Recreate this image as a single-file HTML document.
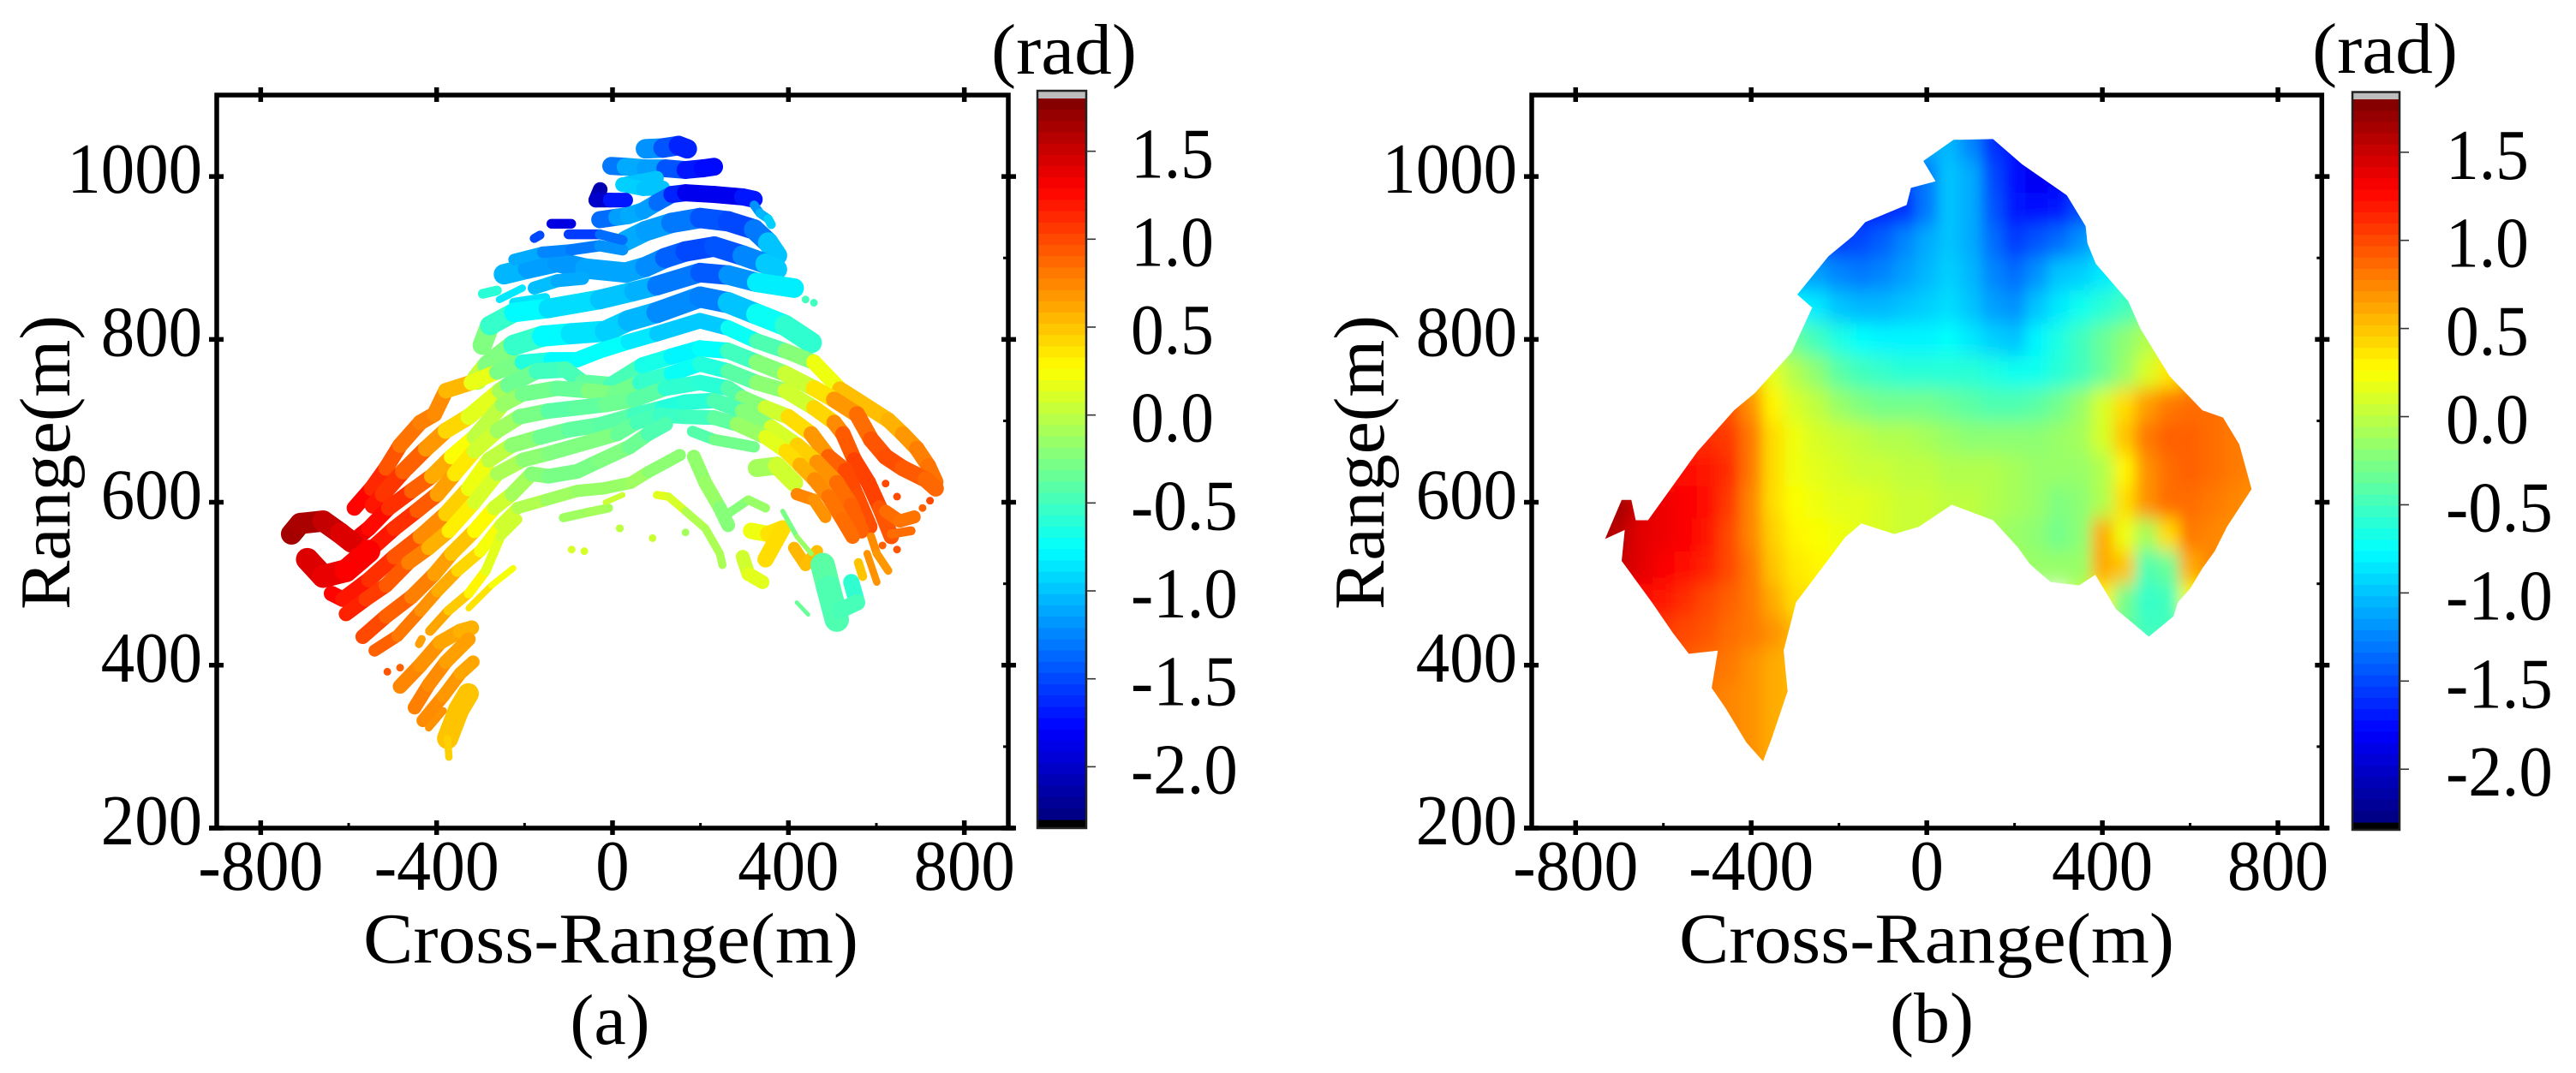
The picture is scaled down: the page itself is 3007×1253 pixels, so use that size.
<!DOCTYPE html>
<html lang="en">
<head>
<meta charset="utf-8">
<title>Phase maps (a) and (b)</title>
<style>
html,body{margin:0;padding:0;background:#fff;}
svg{display:block;}
text{font-family:"Liberation Serif",serif;fill:#000;}
</style>
</head>
<body>
<svg id="figure" width="3007" height="1253" viewBox="0 0 3007 1253">
  <rect x="0" y="0" width="3007" height="1253" fill="#fff"/>
  <defs>
    <filter id="heat-blur" filterUnits="userSpaceOnUse" x="1788" y="111" width="923" height="856">
      <feGaussianBlur stdDeviation="8 11"/>
    </filter>
    <clipPath id="outline-clip"><path id="outline-path"/></clipPath>
  </defs>
  <g id="panel-a">
    <g id="fringes-a"></g>
    <g id="axes-a"></g>
    <g id="colorbar-a"></g>
    <text x="713" y="1124" font-size="84" text-anchor="middle" textLength="578" lengthAdjust="spacingAndGlyphs">Cross-Range(m)</text>
    <text transform="translate(81,540) rotate(-90)" font-size="84" text-anchor="middle" textLength="344" lengthAdjust="spacingAndGlyphs">Range(m)</text>
    <text x="1242" y="86" font-size="84" text-anchor="middle" textLength="170" lengthAdjust="spacingAndGlyphs">(rad)</text>
    <text x="712" y="1219" font-size="84" text-anchor="middle">(a)</text>
  </g>
  <g id="panel-b">
    <g clip-path="url(#outline-clip)">
      <g id="heat-b" filter="url(#heat-blur)"></g>
    </g>
    <g id="axes-b"></g>
    <g id="colorbar-b"></g>
    <text x="2249" y="1124" font-size="84" text-anchor="middle" textLength="578" lengthAdjust="spacingAndGlyphs">Cross-Range(m)</text>
    <text transform="translate(1615,540) rotate(-90)" font-size="84" text-anchor="middle" textLength="344" lengthAdjust="spacingAndGlyphs">Range(m)</text>
    <text x="2784" y="85" font-size="84" text-anchor="middle" textLength="170" lengthAdjust="spacingAndGlyphs">(rad)</text>
    <text x="2255" y="1217" font-size="84" text-anchor="middle">(b)</text>
  </g>
</svg>
<script>
// ---------- axis labels and ticks ----------
const crossTicks = [-800, -400, 0, 400, 800];
const crossMinorTicks = [-600, -200, 200, 600];
const rangeTicks = [200, 400, 600, 800, 1000];
const rangeMinorTicks = [300, 500, 700, 900];
const phaseTicks = [1.5, 1.0, 0.5, 0.0, -0.5, -1.0, -1.5, -2.0];
const phaseTickLabels = ['1.5', '1.0', '0.5', '0.0', '-0.5', '-1.0', '-1.5', '-2.0'];

// ---------- panel (a): wrapped-phase fringes, [cross-range m, range m, phase rad] ----------
const fringe01 = [[75,1034,-1.1],[115,1035,-1.3],[150,1038,-1.6],[170,1034,-1.7]];
const fringe02 = [[-3,1013,-1.4],[30,1012,-1.2],[75,1010,-1.0],[120,1010,-1.3],[166,1008,-1.6],[205,1010,-1.8],[231,1012,-1.7]];
const fringe03 = [[100,998,-1.0],[23,990,-1.0],[70,985,-0.9],[114,986,-1.1]];
const fringe04 = [[-28,984,-2.1],[-38,971,-2.1],[-5,971,-1.9],[30,971,-1.5]];
const fringe05 = [[-29,947,-1.5],[10,950,-1.2],[36,952,-1.1],[70,958,-1.1],[101,968,-1.2],[135,978,-1.5],[166,980,-1.8],[231,978,-1.9],[296,975,-1.8],[322,972,-1.6]];
const fringe06 = [[322,965,-1.3],[335,955,-1.1],[354,948,-1.0],[361,941,-0.9]];
const fringe07 = [[30,921,-1.1],[75,933,-1.1],[134,943,-1.2],[199,949,-1.4],[263,945,-1.5],[322,935,-1.5],[354,919,-1.1],[374,903,-0.9]];
const fringe08 = [[-247,880,-1.0],[-192,887,-1.1],[-126,895,-1.2],[-62,887,-1.15],[30,882,-1.1],[75,889,-1.15],[120,900,-1.3],[166,908,-1.5],[231,914,-1.5],[296,903,-1.4],[348,893,-1.1],[374,886,-0.85]];
const fringe09 = [[-224,898,-1.0],[-159,907,-1.2],[-94,910,-1.3],[-29,915,-1.3],[23,910,-1.1]];
const fringe10 = [[-178,863,-0.95],[-126,872,-1.1],[-68,875,-1.1]];
const fringe11 = [[-139,942,-1.9],[-94,942,-1.9]];
const fringe12 = [[-178,924,-1.5],[-165,928,-1.5]];
const fringe13 = [[-100,929,-1.6],[-29,929,-1.5],[23,922,-1.2]];
const fringe14 = [[-295,856,-0.5],[-263,860,-0.7]];
const fringe15 = [[-257,849,-0.8],[-205,863,-0.9]];
const fringe16 = [[-224,845,-0.8],[-153,851,-0.95]];
const fringe17 = [[-296,793,-0.1],[-279,817,-0.4],[-224,833,-0.7],[-146,838,-0.85],[-29,849,-0.95],[49,859,-1.05],[101,866,-1.1],[199,882,-1.5],[263,879,-1.35],[328,870,-1.05],[413,863,-0.6]];
const fringe18 = [[-308,751,0.15],[-283,768,-0.1],[-224,793,-0.4],[-159,804,-0.7],[-94,807,-0.85],[-16,810,-0.9],[36,823,-1.0],[101,833,-1.1],[199,852,-1.35],[263,845,-1.2],[328,831,-0.8],[393,817,-0.65],[452,796,-0.5]];
const fringe19 = [[-587,593,1.35],[-548,617,1.2],[-515,642,1.05],[-483,670,0.85],[-437,698,0.8],[-405,708,0.75],[-379,737,0.7],[-321,747,0.4],[-263,760,-0.05],[-205,772,-0.5],[-139,775,-0.75],[-81,775,-0.8],[-29,786,-0.7],[36,797,-0.8],[101,807,-0.9],[199,823,-1.05],[263,814,-0.9],[328,798,-0.55],[393,786,-0.35],[458,772,-0.1],[517,739,0.5],[627,701,0.55],[660,684,0.6],[692,666,0.75],[718,645,0.8],[735,625,0.85]];
const fringe20 = [[-545,596,1.25],[-522,610,1.15],[-476,638,1.0],[-424,666,0.8],[-379,688,0.55],[-327,705,0.3],[-256,737,0.0],[-237,744,-0.2],[-172,761,-0.45],[-107,763,-0.55],[-68,747,-0.4],[-3,744,-0.35],[68,768,-0.6],[134,779,-0.75],[199,789,-0.85],[263,786,-0.65],[328,772,-0.35],[393,758,-0.1],[458,740,0.2],[504,726,0.55],[556,708,0.8],[588,677,0.9],[621,656,1.0],[660,642,0.95],[712,628,0.9],[735,617,0.85]];
const fringe21 = [[-730,561,1.65],[-710,574,1.65],[-658,577,1.6],[-619,562,1.45],[-593,551,1.4],[-554,568,1.3],[-509,593,1.2],[-457,614,1.0],[-411,632,0.8],[-366,656,0.4],[-314,680,0.1],[-250,720,-0.1],[-205,733,-0.2],[-126,740,-0.4],[-55,737,-0.3],[3,733,-0.2],[62,747,-0.4],[134,758,-0.7],[199,770,-0.75],[263,761,-0.5],[328,747,-0.3],[393,737,-0.1],[458,716,0.25],[504,698,0.6],[524,684,0.85],[550,652,1.0],[582,624,1.05],[608,593,1.0],[634,558,0.9]];
const fringe22 = [[-730,561,1.65],[-710,574,1.65],[-658,577,1.6],[-619,562,1.45],[-593,551,1.4]];
const fringe23 = [[-694,530,1.45],[-658,509,1.4],[-606,516,1.35],[-554,540,1.25],[-496,568,1.15],[-444,590,1.05],[-398,610,0.8],[-359,635,0.5],[-314,663,0.2],[-262,688,-0.05],[-211,705,-0.2],[-146,712,-0.35],[-81,716,-0.45],[-16,720,-0.3],[49,726,-0.35],[120,740,-0.45],[199,747,-0.7],[263,740,-0.5],[296,728,-0.35],[348,716,-0.1],[400,705,0.25],[452,684,0.55],[491,656,0.8],[530,639,1.0],[556,607,1.0],[585,570,0.95]];
const fringe24 = [[-694,530,1.45],[-658,509,1.4],[-606,516,1.35],[-554,540,1.25]];
const fringe25 = [[-639,488,1.3],[-613,481,1.25],[-554,505,1.15],[-496,533,1.05],[-437,558,0.85],[-379,586,0.6],[-327,617,0.3],[-281,652,0.1],[-229,670,-0.1],[-165,680,-0.3],[-99,689,-0.35],[-29,695,-0.4],[49,707,-0.4],[114,716,-0.6],[166,723,-0.65],[231,725,-0.55],[296,712,-0.35],[361,692,-0.1],[420,670,0.3],[465,649,0.6],[510,624,0.8],[543,596,0.9],[566,565,0.9]];
const fringe26 = [[-606,463,1.2],[-561,481,1.1],[-515,498,1.0],[-464,526,0.85],[-418,544,0.7],[-372,565,0.45],[-314,600,0.2],[-262,635,0.0],[-203,652,-0.15],[-145,660,-0.25],[-80,670,-0.25],[11,684,-0.25],[55,698,-0.45],[107,707,-0.5],[166,705,-0.55],[231,704,-0.45],[283,696,-0.3],[348,680,0.0],[394,663,0.3],[426,646,0.5],[459,628,0.65],[491,607,0.8],[523,579,0.85],[546,558,0.85]];
const fringe27 = [[-568,435,1.05],[-515,460,0.95],[-457,484,0.85],[-405,512,0.7],[-366,537,0.6],[-314,565,0.4],[-269,593,0.15],[-229,610,0.0],[-184,635,-0.2],[-145,632,-0.25],[-80,638,-0.3],[-29,651,-0.25],[39,668,-0.25],[81,684,-0.4],[121,696,-0.5]];
const fringe28 = [[-541,418,0.95],[-489,436,0.85],[-437,467,0.75],[-398,491,0.65],[-353,516,0.55],[-301,540,0.3],[-255,572,0.15],[-216,593,0.0],[-151,603,-0.1],[-80,614,-0.15],[-21,617,-0.15],[42,624,-0.15],[81,637,-0.1],[153,658,-0.3]];
const fringe29 = [[-415,442,0.7],[-373,467,0.55],[-327,488,0.4],[-288,516,0.2],[-255,558,0.1],[-216,579,0.05]];
const fringe30 = [[-327,470,0.45],[-275,498,0.3],[-226,519,0.15]];
const fringe31 = [[-112,581,-0.1],[-54,588,-0.15],[-9,593,-0.05]];
const fringe32 = [[-16,600,0.05],[23,609,0.05]];
const fringe33 = [[-483,374,0.75],[-437,400,0.75],[-392,428,0.65],[-346,442,0.6],[-320,446,0.55]];
const fringe34 = [[-450,348,0.8],[-418,376,0.75],[-379,404,0.7],[-327,432,0.6]];
const fringe35 = [[-431,332,0.75],[-385,362,0.7],[-346,390,0.65],[-317,404,0.6]];
const fringe36 = [[-418,323,0.7],[-385,344,0.7]];
const fringe37 = [[-375,310,0.5],[-350,345,0.5],[-328,365,0.5]];
const fringe38 = [[-372,287,0.45],[-375,310,0.45]];
const fringe39 = [[-434,432,0.65],[-440,426,0.65]];
const fringe40 = [[182,687,-0.45],[231,677,-0.4],[322,668,-0.2]];
const fringe41 = [[185,656,-0.25],[211,624,-0.1],[244,593,-0.2],[263,572,-0.25]];
const fringe42 = [[263,586,-0.25],[309,603,-0.2],[348,593,-0.1]];
const fringe43 = [[101,609,0.1],[127,607,0.2],[166,589,0.0],[211,568,-0.1],[244,537,-0.05],[250,523,-0.1]];
const fringe44 = [[328,642,-0.15],[374,645,-0.05],[413,624,0.2]];
const fringe45 = [[315,565,0.15],[354,561,0.25],[387,568,0.5],[348,530,0.3]];
const fringe46 = [[296,533,0.05],[309,512,0.1],[341,502,0.2]];
const fringe47 = [[419,610,0.75],[458,603,0.75],[484,582,0.65]];
const fringe48 = [[413,544,0.55],[439,523,0.55],[465,540,0.5]];
const fringe49 = [[588,558,0.7],[601,537,0.75],[627,516,0.6]];
const fringe50 = [[579,537,0.7],[601,502,0.7]];
const fringe51 = [[559,526,0.5],[569,509,0.5]];
const fringe52 = [[621,589,0.85],[653,577,0.85],[686,582,0.8]];
const fringe53 = [[634,561,0.9],[679,565,0.8]];
const fringe54 = [[478,523,-0.45],[491,495,-0.35],[510,456,-0.55]];
const fringe55 = [[543,502,-0.65],[556,477,-0.5],[517,467,-0.45]];
const fringe56 = [[419,477,-0.35],[445,462,-0.35]];
const fringe57 = [[387,589,-0.35],[419,558,-0.2],[452,537,-0.1]];
const fringeThicknessMetres = [24,22,18,18,21,11,25,25,14,16,12,11,12,12,9,12,24,26,19,20,19,26,19,28,19,18,18,15,12,8,11,7,18,17,16,9,26,9,10,14,17,11,10,22,20,17,15,15,10,9,11,16,11,30,20,5,6];
const fringeSeries = [fringe01,fringe02,fringe03,fringe04,fringe05,fringe06,fringe07,fringe08,fringe09,fringe10,fringe11,fringe12,fringe13,fringe14,fringe15,fringe16,fringe17,fringe18,fringe19,fringe20,fringe21,fringe22,fringe23,fringe24,fringe25,fringe26,fringe27,fringe28,fringe29,fringe30,fringe31,fringe32,fringe33,fringe34,fringe35,fringe36,fringe37,fringe38,fringe39,fringe40,fringe41,fringe42,fringe43,fringe44,fringe45,fringe46,fringe47,fringe48,fringe49,fringe50,fringe51,fringe52,fringe53,fringe54,fringe55,fringe56,fringe57];
// isolated scatterers: [cross-range m, range m, phase rad]
const scatterPoints = [[-512,392,0.95],[-483,397,0.9],[-93,542,0.1],[-64,540,0.1],[17,568,-0.05],[166,563,-0.1],[91,556,0.05],[16,568,0.0],[621,623,1.0],[647,607,1.0],[722,602,1.0],[705,593,0.9],[647,542,0.95],[614,547,0.9],[439,849,-0.5],[458,845,-0.5]];

// ---------- panel (b): unwrapped phase, coverage outline and gridded values ----------
const outlineCross = [61,151,217,319,362,366,385,459,487,553,628,675,712,740,684,656,628,600,572,562,506,431,384,347,282,235,207,151,57,-18,-74,-149,-186,-298,-326,-317,-354,-373,-411,-458,-490,-476,-542,-579,-626,-695,-688,-733,-695,-673,-663,-635,-523,-439,-392,-308,-261,-295,-224,-168,-140,-46,-36,20,-8];
const outlineRange = [1045,1046,1015,977,939,918,893,847,813,755,713,704,671,616,570,540,519,494,477,460,435,469,511,498,502,524,545,578,597,570,561,574,557,477,418,368,309,282,305,347,372,418,414,440,477,528,566,555,603,603,578,578,662,713,734,784,839,855,902,927,944,965,986,994,1019];
const heatCellCross = 50;
const heatCellRange = 40;
const heatRowRange = [1080,1040,1000,960,920,880,840,800,760,720,680,640,600,560,520,480,480,440,440,400,360,320,280,240];
const heatRowFirstCross = [-50,-100,-150,-250,-350,-350,-350,-400,-500,-550,-600,-650,-800,-800,-750,-700,350,-650,400,-600,-550,-500,-450,-450];
const heatRow01 = [-1.2,-1.1,-1.1,-1.3,-1.6,-1.7,-1.8];
const heatRow02 = [-1.4,-1.2,-1.1,-1.05,-1.25,-1.6,-1.7,-1.8,-1.8];
const heatRow03 = [-1.6,-1.6,-1.5,-1.3,-1.0,-1.1,-1.5,-1.75,-1.85,-1.8,-1.7];
const heatRow04 = [-1.5,-1.6,-1.7,-1.65,-1.6,-1.3,-1.0,-1.1,-1.45,-1.7,-1.75,-1.7,-1.5,-1.3];
const heatRow05 = [-1.3,-1.35,-1.45,-1.55,-1.5,-1.4,-1.25,-1.1,-1.0,-1.1,-1.35,-1.55,-1.45,-1.35,-1.2,-1.0,-0.85];
const heatRow06 = [-1.1,-1.15,-1.15,-1.25,-1.3,-1.25,-1.15,-1.05,-0.95,-1.05,-1.25,-1.35,-1.2,-1.0,-0.95,-0.85,-0.7,-0.6];
const heatRow07 = [-0.7,-0.8,-0.85,-1.0,-1.05,-1.05,-1.0,-0.95,-0.9,-1.0,-1.15,-1.2,-1.0,-0.85,-0.7,-0.6,-0.5,-0.35,-0.2];
const heatRow08 = [-0.1,-0.2,-0.35,-0.5,-0.65,-0.75,-0.8,-0.8,-0.8,-0.75,-0.85,-0.95,-1.0,-0.8,-0.65,-0.5,-0.35,-0.2,-0.05,0.1,0.3];
const heatRow09 = [0.8,0.7,0.5,0.15,-0.05,-0.2,-0.4,-0.5,-0.55,-0.6,-0.6,-0.6,-0.6,-0.65,-0.7,-0.7,-0.6,-0.5,-0.35,-0.15,0.1,0.35,0.55,0.7,0.75,0.8];
const heatRow10 = [1.0,1.0,0.95,0.7,0.3,0.1,0,-0.15,-0.25,-0.3,-0.3,-0.3,-0.35,-0.4,-0.45,-0.45,-0.4,-0.3,-0.15,0.1,0.4,0.65,0.8,0.85,0.85,0.8,0.75];
const heatRow11 = [1.1,1.1,1.1,1.05,0.8,0.4,0.2,0.1,0.05,0,-0.05,-0.05,-0.1,-0.15,-0.2,-0.2,-0.2,-0.2,-0.15,-0.1,0.1,0.5,0.8,0.9,0.9,0.85,0.8,0.75];
const heatRow12 = [1.2,1.2,1.25,1.2,1.1,0.8,0.4,0.2,0.15,0.1,0.05,0.05,0,0,-0.05,-0.05,-0.05,-0.1,-0.15,-0.15,-0.15,-0.05,0.3,0.7,0.85,0.9,0.85,0.8,0.75,0.7];
const heatRow13 = [1.7,1.7,1.65,1.45,1.35,1.3,1.25,1.05,0.75,0.4,0.25,0.2,0.15,0.15,0.1,0.05,0.05,0,0,-0.05,-0.1,-0.15,-0.25,-0.2,-0.05,0.4,0.7,0.85,0.85,0.8,0.75,0.7];
const heatRow14 = [1.65,1.65,1.55,1.4,1.35,1.3,1.2,1.0,0.75,0.45,0.3,0.25,0.2,0.15,0.1,0.05,0.05,0,0,-0.1,-0.15,-0.2,-0.3,-0.2,0.6,0.2,-0.1,0.4,0.8,0.75,0.7,0.7];
const heatRow15 = [1.5,1.5,1.4,1.3,1.25,1.15,1.0,0.8,0.5,0.35,0.3,0.25,0.2,0.15,0.1,0.05,0,0,-0.05,-0.1,-0.15,-0.15,-0.15,0.6,0.5,-0.45,-0.35,0.6,0.75,0.7];
const heatRow16 = [1.3,1.25,1.2,1.1,1.0,0.9,0.8,0.6,0.4,0.35];
const heatRow17 = [0,0.3,-0.3,-0.55,-0.5,0.2,0.3];
const heatRow18 = [1.1,1.05,1.0,0.95,0.85,0.8,0.7,0.55,0.45];
const heatRow19 = [-0.1,-0.35,-0.5,-0.5,-0.4];
const heatRow20 = [0.95,0.9,0.85,0.8,0.7,0.6,0.55,0.5];
const heatRow21 = [0.85,0.8,0.75,0.7,0.6,0.55,0.5];
const heatRow22 = [0.75,0.75,0.7,0.6,0.5,0.5];
const heatRow23 = [0.7,0.7,0.6,0.5,0.5];
const heatRow24 = [0.7,0.7,0.6,0.5,0.5];
const heatRows = [heatRow01,heatRow02,heatRow03,heatRow04,heatRow05,heatRow06,heatRow07,heatRow08,heatRow09,heatRow10,heatRow11,heatRow12,heatRow13,heatRow14,heatRow15,heatRow16,heatRow17,heatRow18,heatRow19,heatRow20,heatRow21,heatRow22,heatRow23,heatRow24];

// ---------- scales ----------
const SVG_NS = 'http://www.w3.org/2000/svg';
const crossLimits = [-900, 900];
const rangeLimits = [200, 1100];
const phaseLimits = [-2.3, 1.8];
const plotTop = 111;
const plotBottom = 967;
function axisX(left, right) {
  return function (c) { return left + (c - crossLimits[0]) / (crossLimits[1] - crossLimits[0]) * (right - left); };
}
function axisY(r) {
  return plotBottom - (r - rangeLimits[0]) / (rangeLimits[1] - rangeLimits[0]) * (plotBottom - plotTop);
}
function clip01(v) { return Math.max(0, Math.min(1, v)); }
function jet(phase) {
  const t = clip01((phase - phaseLimits[0]) / (phaseLimits[1] - phaseLimits[0]));
  const r = Math.round(255 * clip01(1.5 - Math.abs(4 * t - 3)));
  const g = Math.round(255 * clip01(1.5 - Math.abs(4 * t - 2)));
  const b = Math.round(255 * clip01(1.5 - Math.abs(4 * t - 1)));
  return 'rgb(' + r + ',' + g + ',' + b + ')';
}
function mk(tag, parent, attrs) {
  const e = document.createElementNS(SVG_NS, tag);
  for (const k in attrs) e.setAttribute(k, attrs[k]);
  parent.appendChild(e);
  return e;
}
function tickLabelWidth(label) {
  let w = 0;
  for (const ch of label) w += ch === '-' ? 28 : ch === '.' ? 18 : 39.4;
  return w;
}

// ---------- axes ----------
function drawAxes(group, left, right) {
  const x = axisX(left, right);
  const spineW = 5.5;
  const box = mk('path', group, {
    d: 'M' + (left - 9) + ' ' + plotBottom + 'H' + (right + 7) + 'M' + right + ' ' + plotBottom + 'V' + plotTop + 'H' + left + 'V' + plotBottom,
    fill: 'none', stroke: '#000', 'stroke-width': spineW
  });
  
  
  crossTicks.forEach(function (c) {
    const d = mk('path', group, {
      d: 'M' + x(c) + ' ' + (plotBottom - 9) + 'V' + (plotBottom + 8) + 'M' + x(c) + ' ' + (plotTop - 9) + 'V' + (plotTop + 8),
      stroke: '#000', 'stroke-width': 5.5, fill: 'none'
    });
    
    
    const label = String(c);
    const t = mk('text', group, {
      x: x(c), y: 1039, 'font-size': 84, 'text-anchor': 'middle',
      textLength: tickLabelWidth(label), lengthAdjust: 'spacingAndGlyphs'
    });
    t.textContent = label;
    
    
  });
  crossMinorTicks.forEach(function (c) {
    const d = mk('path', group, {
      d: 'M' + x(c) + ' ' + (plotBottom - 6) + 'V' + plotBottom, stroke: '#000', 'stroke-width': 3
    });
    
    
  });
  rangeTicks.forEach(function (r) {
    const y = axisY(r);
    const d = mk('path', group, {
      d: 'M' + (left - 9) + ' ' + y + 'H' + (left + 8) + 'M' + (right - 8) + ' ' + y + 'H' + (right + 9),
      stroke: '#000', 'stroke-width': 5.5, fill: 'none'
    });
    
    
    const label = String(r);
    const t = mk('text', group, {
      x: left - 17, y: y + 19, 'font-size': 84, 'text-anchor': 'end',
      textLength: tickLabelWidth(label), lengthAdjust: 'spacingAndGlyphs'
    });
    t.textContent = label;
    
    
  });
  rangeMinorTicks.forEach(function (r) {
    const y = axisY(r);
    const d = mk('path', group, {
      d: 'M' + (right - 6) + ' ' + y + 'H' + right, stroke: '#000', 'stroke-width': 3
    });
    
    
  });
}

// ---------- colorbars ----------
function drawColorbar(group, left, right, outerTop, mapTop, mapBottom, outerBottom, labelX) {
  const py = function (v) {
    return mapTop + (phaseLimits[1] - v) / (phaseLimits[1] - phaseLimits[0]) * (mapBottom - mapTop);
  };
  const cap = mk('rect', group, { x: left, y: outerTop, width: right - left, height: mapTop - outerTop, fill: '#bdbdbd' });
  
  
  const under = mk('rect', group, { x: left, y: mapBottom, width: right - left, height: outerBottom - mapBottom, fill: '#000' });
  
  
  const levels = 64;
  for (let i = 0; i < levels; i++) {
    const hi = phaseLimits[1] - i * (phaseLimits[1] - phaseLimits[0]) / levels;
    const lo = phaseLimits[1] - (i + 1) * (phaseLimits[1] - phaseLimits[0]) / levels;
    const s = mk('rect', group, { x: left, y: py(hi), width: right - left, height: py(lo) - py(hi) + 0.6, fill: jet((hi + lo) / 2) });
    
    
  }
  const frame = mk('rect', group, { x: left, y: outerTop, width: right - left, height: outerBottom - outerTop, fill: 'none', stroke: '#222', 'stroke-width': 2.5 });
  
  
  phaseTicks.forEach(function (v, i) {
    const tick = mk('path', group, { d: 'M' + right + ' ' + py(v) + 'h11', stroke: '#333', 'stroke-width': 1.6 });
    
    
    const label = phaseTickLabels[i];
    const t = mk('text', group, {
      x: labelX, y: py(v) + 31, 'font-size': 84, 'text-anchor': 'start',
      textLength: tickLabelWidth(label), lengthAdjust: 'spacingAndGlyphs'
    });
    t.textContent = label;
    
    
  });
}

// ---------- panel (a) marks ----------
function drawFringes(group, left, right) {
  const x = axisX(left, right);
  const pxPerMetre = (plotBottom - plotTop) / (rangeLimits[1] - rangeLimits[0]);
  fringeSeries.forEach(function (series, s) {
    const band = mk('g', group, { fill: 'none', 'stroke-linecap': 'round', 'stroke-width': fringeThicknessMetres[s] * pxPerMetre });
    
    
    for (let i = 0; i + 1 < series.length; i++) {
      const a = series[i], b = series[i + 1];
      const seg = mk('line', band, { x1: x(a[0]), y1: axisY(a[1]), x2: x(b[0]), y2: axisY(b[1]), stroke: jet((a[2] + b[2]) / 2) });
      
      
    }
  });
  scatterPoints.forEach(function (p) {
    const dot = mk('circle', group, { cx: x(p[0]), cy: axisY(p[1]), r: 4.5, fill: jet(p[2]) });
    
    
  });
}

// ---------- panel (b) marks ----------
function drawHeat(group, left, right) {
  const x = axisX(left, right);
  heatRows.forEach(function (row, j) {
    row.forEach(function (v, i) {
      const c = heatRowFirstCross[j] + i * heatCellCross;
      const r = heatRowRange[j];
      const cell = mk('rect', group, {
        x: x(c - heatCellCross / 2), y: axisY(r + heatCellRange / 2),
        width: x(c + heatCellCross / 2) - x(c - heatCellCross / 2) + 1,
        height: axisY(r - heatCellRange / 2) - axisY(r + heatCellRange / 2) + 1,
        fill: jet(v)
      });
      
      
    });
  });
  let d = '';
  outlineCross.forEach(function (c, i) {
    d += (i ? 'L' : 'M') + x(c).toFixed(1) + ' ' + axisY(outlineRange[i]).toFixed(1);
  });
  document.getElementById('outline-path').setAttribute('d', d + 'Z');
}

const leftA = 253, rightA = 1177, leftB = 1788, rightB = 2710.3;
drawFringes(document.getElementById('fringes-a'), leftA, rightA);
drawAxes(document.getElementById('axes-a'), leftA, rightA);
drawColorbar(document.getElementById('colorbar-a'), 1211, 1268, 106, 115, 957, 967, 1320);
drawHeat(document.getElementById('heat-b'), leftB, rightB);
drawAxes(document.getElementById('axes-b'), leftB, rightB);
drawColorbar(document.getElementById('colorbar-b'), 2746, 2801, 107.5, 116, 960, 969, 2855);
</script>
</body>
</html>
